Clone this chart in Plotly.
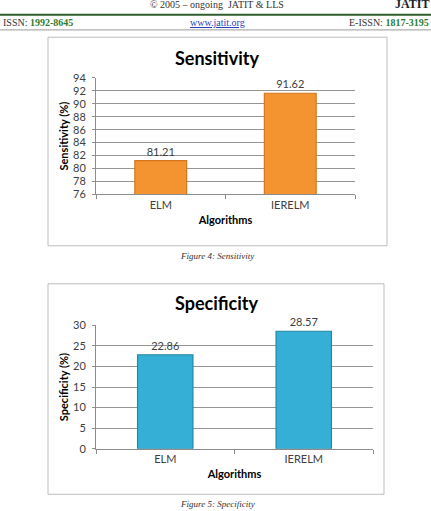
import plotly.graph_objects as go

W, H = 431, 511

algorithms = ["ELM", "IERELM"]
sensitivity = [81.21, 91.62]
specificity = [22.86, 28.57]
sens_ticks = [76, 78, 80, 82, 84, 86, 88, 90, 92, 94]
spec_ticks = [0, 5, 10, 15, 20, 25, 30]


def px_x(x):
    return x / W


def px_y(y):
    return 1 - y / H


fig = go.Figure()

fig.add_trace(go.Bar(
    x=algorithms, y=sensitivity, xaxis="x", yaxis="y",
    width=0.4,
    marker=dict(color="#F49431", line=dict(color="#D4761E", width=1.2)),
    text=[f"{v:.2f}" for v in sensitivity], textposition="outside",
    textfont=dict(family="Lato, Open Sans, sans-serif", size=11, color="#404040"),
    cliponaxis=False, showlegend=False,
))
fig.add_trace(go.Bar(
    x=algorithms, y=specificity, xaxis="x2", yaxis="y2",
    width=0.4,
    marker=dict(color="#35AFD5", line=dict(color="#2487A8", width=1.2)),
    text=[f"{v:.2f}" for v in specificity], textposition="outside",
    textfont=dict(family="Lato, Open Sans, sans-serif", size=11, color="#404040"),
    cliponaxis=False, showlegend=False,
))

tickfont = dict(family="Lato, Open Sans, sans-serif", size=11, color="#404040")
titlefont = dict(family="Lato, Open Sans, sans-serif", size=11, color="#000000", weight="bold")

common_x = dict(showline=True, linecolor="#8C8C8C", linewidth=1, ticks="outside",
                tickson="boundaries", ticklen=4, tickcolor="#8C8C8C",
                tickfont=tickfont, showgrid=False, fixedrange=True)
common_y = dict(showline=True, linecolor="#8C8C8C", linewidth=1, ticks="outside",
                ticklen=3, tickcolor="#8C8C8C", tickfont=tickfont, ticklabelstandoff=4,
                showgrid=True, gridcolor="#959595", gridwidth=1, zeroline=False,
                fixedrange=True)

fig.update_layout(
    width=W, height=H,
    margin=dict(l=0, r=0, t=0, b=0),
    paper_bgcolor="white", plot_bgcolor="white",
    bargap=0.6,
    xaxis=dict(domain=[px_x(96), px_x(355)], anchor="y",
               title=dict(text="Algorithms", font=titlefont, standoff=6), **common_x),
    yaxis=dict(domain=[px_y(192.3), px_y(72.7)], anchor="x", range=[76, 94],
               tickvals=sens_ticks,
               title=dict(text="Sensitivity (%)", font=titlefont, standoff=2), **common_y),
    xaxis2=dict(domain=[px_x(96), px_x(373)], anchor="y2",
                title=dict(text="Algorithms", font=titlefont, standoff=6), **common_x),
    yaxis2=dict(domain=[px_y(453.3), px_y(326.7)], anchor="x2", range=[0, 30],
                tickvals=spec_ticks,
                title=dict(text="Specificity (%)", font=titlefont, standoff=2), **common_y),
)

shapes = [
    # header lines
    dict(type="line", xref="paper", yref="paper", x0=0, x1=1, y0=px_y(8), y1=px_y(8),
         line=dict(color="#2E5E2E", width=2)),
    dict(type="line", xref="paper", yref="paper", x0=0, x1=1, y0=px_y(23.5), y1=px_y(23.5),
         line=dict(color="#9A9A9A", width=1)),
    # chart boxes
    dict(type="rect", xref="paper", yref="paper", x0=px_x(48), x1=px_x(387),
         y0=px_y(245), y1=px_y(31), line=dict(color="#BDBDBD", width=1)),
    dict(type="rect", xref="paper", yref="paper", x0=px_x(48), x1=px_x(384),
         y0=px_y(500), y1=px_y(284), line=dict(color="#BDBDBD", width=1)),
]
fig.update_layout(shapes=shapes)

serif = "Liberation Serif, Times New Roman, serif"
ann = [
    dict(text="© 2005 – ongoing  JATIT & LLS", x=px_x(217), y=px_y(5), yanchor="bottom",
         font=dict(family=serif, size=10, color="#333")),
    dict(text="<b>JATIT</b>", x=px_x(431), y=px_y(6), xanchor="right", yanchor="bottom",
         font=dict(family=serif, size=12, color="#222")),
    dict(text="ISSN: <span style='color:#2E7D32'><b>1992-8645</b></span>", x=px_x(1), y=px_y(16),
         xanchor="left", font=dict(family=serif, size=10, color="#333")),
    dict(text="<u>www.jatit.org</u>", x=px_x(217), y=px_y(16), font=dict(family=serif, size=10, color="#2B3FBF")),
    dict(text="E-ISSN: <span style='color:#2E7D32'><b>1817-3195</b></span>", x=px_x(431), y=px_y(16),
         xanchor="right", font=dict(family=serif, size=10, color="#333")),
    dict(text="<b>Sensitivity</b>", x=px_x(217), y=px_y(52), font=dict(family="Lato, Open Sans, sans-serif", size=18, color="#000")),
    dict(text="<b>Specificity</b>", x=px_x(217), y=px_y(304), font=dict(family="Lato, Open Sans, sans-serif", size=18, color="#000")),
    dict(text="<i>Figure 4: Sensitivity</i>", x=px_x(217), y=px_y(256), font=dict(family=serif, size=9, color="#333")),
    dict(text="<i>Figure 5: Specificity</i>", x=px_x(217), y=px_y(510), font=dict(family=serif, size=9, color="#333")),
]
for a in ann:
    a.update(xref="paper", yref="paper", showarrow=False)
    a.setdefault("yanchor", "middle")
    a.setdefault("xanchor", "center")
fig.update_layout(annotations=ann)

fig.write_html("out.html")
